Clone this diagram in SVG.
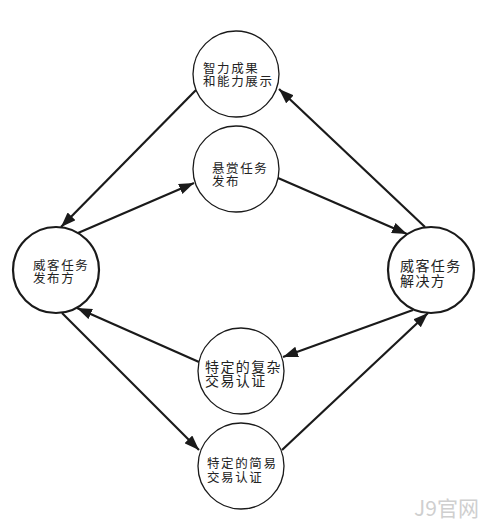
<svg xmlns="http://www.w3.org/2000/svg" width="504" height="528" viewBox="0 0 504 528">
  <style>
    .bg { fill: #ffffff; }
    .node-s { fill: #ffffff; stroke: #1a1a1a; stroke-width: 1.3; }
    .node-b { fill: #ffffff; stroke: #1a1a1a; stroke-width: 2.2; }
    .lbl { font-family: "Noto Sans CJK SC", "Noto Sans", sans-serif; font-size: 12.5px; fill: #222222; letter-spacing: 1.6px; }
    .lbl-b { font-family: "Noto Sans CJK SC", "Noto Sans", sans-serif; font-size: 14px; fill: #222222; letter-spacing: 1.4px; }
    .edge { stroke: #1a1a1a; stroke-width: 2.2; fill: none; marker-end: url(#ah); }
    .wm { font-family: "Noto Sans CJK SC", "Noto Sans", sans-serif; font-size: 21px; fill: #cfcfcf; }
  </style>
  <defs>
    <marker id="ah" markerUnits="userSpaceOnUse" markerWidth="15" markerHeight="11" refX="15" refY="5.5" orient="auto">
      <path d="M0,0 L15,5.5 L0,11 z" fill="#1a1a1a"/>
    </marker>
  </defs>
  <rect class="bg" x="0" y="0" width="504" height="528"/>

  <g id="connectors">
    <line class="edge" x1="196" y1="90" x2="61" y2="227"/>
    <line class="edge" x1="78" y1="233" x2="194" y2="183"/>
    <line class="edge" x1="278" y1="178" x2="407" y2="234"/>
    <line class="edge" x1="425" y1="227" x2="279" y2="89"/>
    <line class="edge" x1="199" y1="362" x2="77" y2="308"/>
    <line class="edge" x1="413" y1="310" x2="283" y2="357"/>
    <line class="edge" x1="62" y1="313" x2="199" y2="450"/>
    <line class="edge" x1="282" y1="450" x2="428" y2="313"/>
  </g>

  <g id="node-top">
    <circle class="node-s" cx="236" cy="74" r="43"/>
    <text class="lbl"><tspan x="203" y="73">智力成果</tspan><tspan x="203" y="86">和能力展示</tspan></text>
  </g>

  <g id="node-reward">
    <circle class="node-s" cx="236" cy="169" r="43"/>
    <text class="lbl"><tspan x="212" y="173">悬赏任务</tspan><tspan x="212" y="186">发布</tspan></text>
  </g>

  <g id="node-publisher">
    <circle class="node-b" cx="56" cy="270" r="43"/>
    <text class="lbl"><tspan x="33" y="270">威客任务</tspan><tspan x="33" y="283">发布方</tspan></text>
  </g>

  <g id="node-solver">
    <circle class="node-b" cx="431" cy="270" r="43"/>
    <text class="lbl-b"><tspan x="400" y="271">威客任务</tspan><tspan x="400" y="286">解决方</tspan></text>
  </g>

  <g id="node-complex">
    <circle class="node-s" cx="241" cy="371" r="43"/>
    <text class="lbl-b"><tspan x="205" y="372">特定的复杂</tspan><tspan x="205" y="386">交易认证</tspan></text>
  </g>

  <g id="node-simple">
    <circle class="node-s" cx="241" cy="466" r="43"/>
    <text class="lbl"><tspan x="207" y="468">特定的简易</tspan><tspan x="207" y="482">交易认证</tspan></text>
  </g>

  <text class="wm" x="414" y="516">J9官网</text>
</svg>
